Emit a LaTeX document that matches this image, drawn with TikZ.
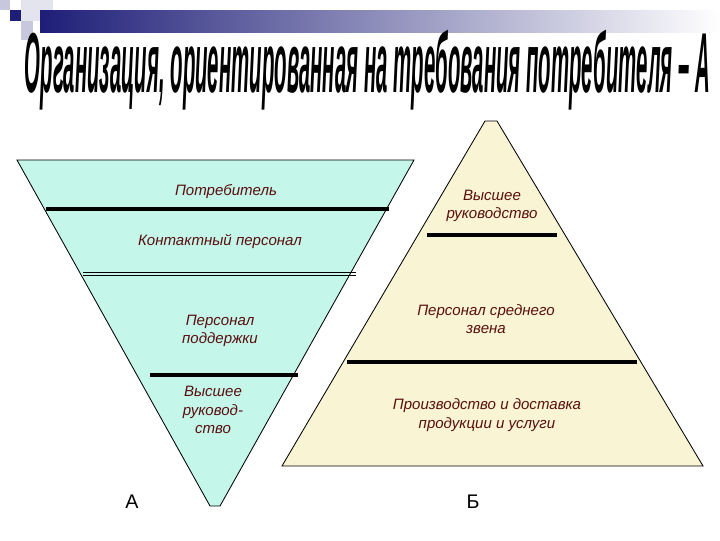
\documentclass[tikz,border=0pt]{standalone}
\usepackage{fontspec}
\setmainfont{Liberation Sans}
\usepackage{graphicx}
\definecolor{invfill}{RGB}{196,246,234}
\definecolor{pyrfill}{RGB}{248,244,212}
\definecolor{labeltext}{RGB}{90,15,15}
\definecolor{barblue}{RGB}{30,30,120}
\tikzset{
  layer/.style={font=\fontsize{10.7}{13}\selectfont\itshape, text=labeltext, align=center},
  divider/.style={line width=2.8pt},
  thinline/.style={line width=0.6pt},
  outline/.style={line width=0.6pt},
}
\begin{document}
\begin{tikzpicture}[x=0.025cm, y=-0.025cm]
  \useasboundingbox (0,0) rectangle (720,540);

  % Draw corner squares and header bar
  \fill[barblue!25] (0,0) rectangle (10,10);
  \fill[barblue!12] (21,0) rectangle (53,21);
  \fill[barblue!25] (21,21) rectangle (33,40);
  \fill[barblue] (10,10) rectangle (21,21);
  \shade[left color=barblue, right color=white] (40,10) rectangle (720,32);

  % Draw title
  \node[inner sep=0] (title) at (367.5,70)
    {\resizebox*{17.125cm}{2cm}{\bfseries\itshape Организация, ориентированная на требования потребителя – А}};

  % Draw inverted triangle A
  \draw[outline, fill=invfill] (17,160) -- (414,160) -- (220,506) -- (210,506) -- cycle;

  % Draw triangle B
  \draw[outline, fill=pyrfill] (282,466) -- (703,466) -- (497,121) -- (485,121) -- cycle;

  % Draw dividers of A
  \draw[divider] (46,209) -- (389,209);
  \draw[thinline] (83,272.5) -- (356,272.5);
  \draw[thinline] (83,275.5) -- (356,275.5);
  \draw[divider] (150,375) -- (298,375);

  % Draw dividers of B
  \draw[divider] (427,235) -- (557,235);
  \draw[divider] (347,362) -- (637,362);

  % Label layers of A
  \node[layer] (consumer) at (226,192) {Потребитель};
  \node[layer] (contact) at (220,241) {Контактный персонал};
  \node[layer] (support) at (220,331) {Персонал\\поддержки};
  \node[layer] (topA) at (213,410) {Высшее\\руковод-\\ство};

  % Label layers of B
  \node[layer] (topB) at (492,206) {Высшее\\руководство};
  \node[layer] (middle) at (486,319) {Персонал среднего\\звена};
  \node[layer] (production) at (487,415) {Производство и доставка\\продукции и услуги};

  % Letters under the figures
  \node[font=\fontsize{14}{16}\selectfont] (labelA) at (132,502) {А};
  \node[font=\fontsize{14}{16}\selectfont] (labelB) at (473,502) {Б};
\end{tikzpicture}
\end{document}
